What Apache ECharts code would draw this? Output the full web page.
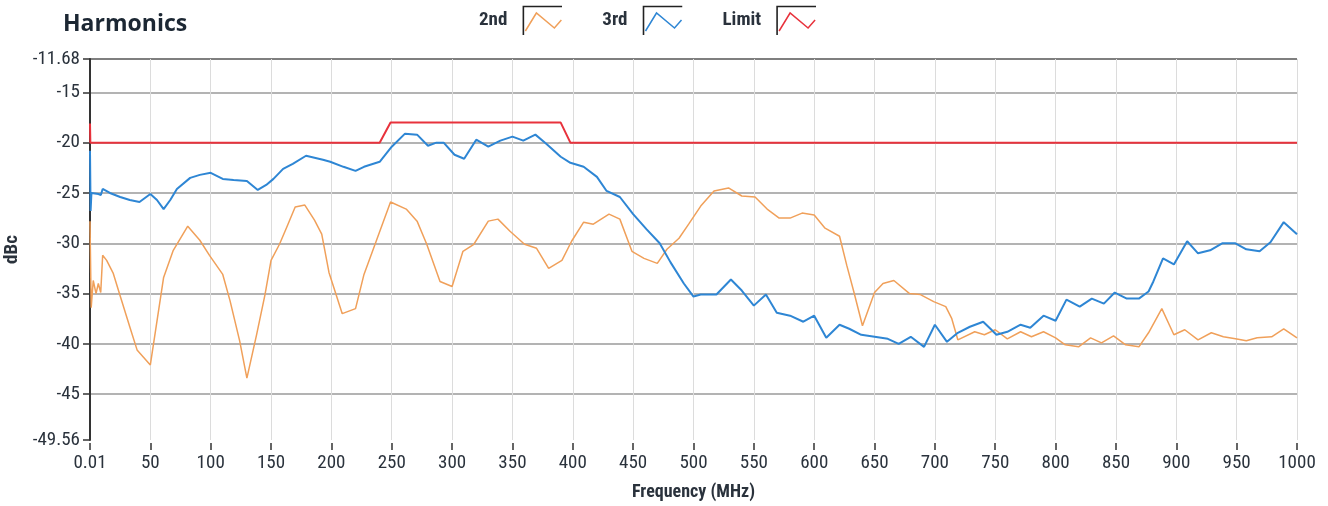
<!DOCTYPE html>
<html>
<head>
<meta charset="utf-8">
<title>Harmonics</title>
<script src="https://cdn.jsdelivr.net/npm/echarts@6/dist/echarts.min.js"></script>
<style>
  html, body { margin: 0; padding: 0; background: #fff; }
  #chart { width: 1328px; height: 506px; }
</style>
</head>
<body>
<div id="chart"></div>
<script>
// frequency (MHz) / level (dBc)
var secondFreq = [0.01, 1, 2.7, 5, 6.9, 8.9, 10.5, 13.8, 19.3, 24.9, 33.2, 39, 50, 61, 69, 81, 91, 99, 110, 116, 124, 130, 138, 145, 150, 157, 163, 170, 178, 186, 192, 198, 209, 220, 227, 238, 249, 262, 271, 279, 290, 300, 309, 318, 330, 338, 348, 360, 370, 380, 391, 399, 409, 417, 430, 439, 449, 459, 470, 478, 488, 496, 506, 517, 529, 540, 551, 561, 571, 580, 590, 600, 609, 621, 627, 633, 640, 650, 657, 666, 679, 688, 699, 709, 714, 719, 733, 741, 750, 760, 771, 780, 790, 800, 808, 819, 829, 838, 848, 858, 869, 877, 888, 898, 907, 918, 929, 939, 949, 958, 967, 979, 989, 1000];
var secondDbc = [-27.8, -36.4, -33.7, -35.0, -34.0, -34.9, -31.2, -31.7, -33.0, -35.2, -38.4, -40.6, -42.1, -33.4, -30.7, -28.3, -29.7, -31.2, -33.1, -35.7, -39.7, -43.4, -39.1, -35.1, -31.7, -30.1, -28.4, -26.4, -26.2, -27.7, -29.1, -32.9, -37.0, -36.5, -33.1, -29.5, -25.9, -26.6, -27.8, -30.1, -33.8, -34.3, -30.8, -30.1, -27.8, -27.6, -28.8, -30.1, -30.5, -32.5, -31.7, -29.8, -27.9, -28.1, -27.1, -27.6, -30.8, -31.5, -32.0, -30.6, -29.5, -28.1, -26.3, -24.8, -24.5, -25.3, -25.4, -26.6, -27.5, -27.5, -27.0, -27.2, -28.5, -29.3, -32.2, -34.9, -38.2, -34.9, -34.0, -33.7, -35.0, -35.1, -35.8, -36.3, -37.5, -39.6, -38.8, -39.1, -38.6, -39.5, -38.8, -39.3, -38.8, -39.4, -40.1, -40.3, -39.4, -39.9, -39.2, -40.1, -40.3, -38.9, -36.5, -39.1, -38.6, -39.6, -38.9, -39.3, -39.5, -39.7, -39.4, -39.3, -38.5, -39.4];

var thirdFreq = [0.01, 0.5, 1.2, 2.7, 7, 9, 10.5, 16.5, 25, 33, 41, 50, 55.5, 61, 66.5, 72, 83, 91, 100, 110, 119, 130, 139, 146, 152, 160, 168, 179, 186, 193, 199, 210, 220, 227, 240, 250, 261, 271, 280, 287, 293, 302, 310, 320, 330, 340, 350, 359, 369, 378, 390, 398, 409, 420, 428, 439, 450, 461, 472, 481, 492, 500, 506, 519, 531, 540, 550, 560, 569, 580, 591, 600, 610, 621, 629, 639, 650, 661, 670, 680, 691, 700, 710, 719, 729, 740, 746, 751, 760, 771, 779, 790, 800, 809, 820, 830, 840, 849, 859, 869, 877, 881, 889, 898, 909, 918, 928, 938, 949, 958, 969, 978, 989, 1000];
var thirdDbc = [-20.8, -26.8, -25.0, -25.1, -25.1, -25.2, -24.6, -25.0, -25.4, -25.7, -25.9, -25.1, -25.7, -26.6, -25.7, -24.6, -23.5, -23.2, -23.0, -23.6, -23.7, -23.8, -24.7, -24.2, -23.6, -22.6, -22.1, -21.3, -21.5, -21.7, -21.9, -22.4, -22.8, -22.4, -21.9, -20.4, -19.1, -19.2, -20.3, -20.0, -20.0, -21.2, -21.6, -19.7, -20.4, -19.8, -19.4, -19.8, -19.2, -20.1, -21.4, -22.0, -22.4, -23.4, -24.8, -25.4, -27.1, -28.6, -30.0, -31.9, -34.0, -35.3, -35.1, -35.1, -33.6, -34.7, -36.2, -35.1, -36.9, -37.2, -37.8, -37.2, -39.4, -38.1, -38.5, -39.1, -39.3, -39.5, -40.0, -39.3, -40.3, -38.1, -39.8, -38.9, -38.3, -37.8, -38.5, -39.1, -38.8, -38.1, -38.4, -37.2, -37.7, -35.6, -36.3, -35.5, -36.0, -34.9, -35.5, -35.5, -34.8, -33.8, -31.5, -32.1, -29.8, -31.0, -30.7, -30.0, -30.0, -30.6, -30.8, -29.9, -27.9, -29.1];

var limitFreq = [0.01, 0.3, 240, 249, 390, 398, 1000];
var limitDbc = [-18.1, -20, -20, -18, -18, -20, -20];

var xTicks = [0.01, 50, 100, 150, 200, 250, 300, 350, 400, 450, 500, 550, 600, 650, 700, 750, 800, 850, 900, 950, 1000];
var yTicks = [-49.56, -45, -40, -35, -30, -25, -20, -15, -11.68];

function pairs(xs, ys) {
  return xs.map(function (x, i) { return [x, ys[i]]; });
}

function legendIcon(color) {
  var svg = '<svg xmlns="http://www.w3.org/2000/svg" width="50" height="30" viewBox="0 0 50 30">' +
    '<path d="M11 30 V1.5 H50" fill="none" stroke="#222" stroke-width="1.6"/>' +
    '<path d="M13 26 L24 8 L42 23 L49 15" fill="none" stroke="' + color + '" stroke-width="1.5"/>' +
    '</svg>';
  return 'image://data:image/svg+xml;charset=utf-8,' + encodeURIComponent(svg);
}

var narrow = "'Roboto Condensed', 'Liberation Sans Narrow', Roboto, sans-serif";
var textColor = '#2a323c';

var chart = echarts.init(document.getElementById('chart'));

var option = {
  animation: false,
  backgroundColor: '#fff',
  color: ['#f0a05a', '#2e86d4', '#e8323c'],
  title: {
    text: 'Harmonics',
    left: 63,
    top: 13,
    padding: 0,
    textStyle: {
      fontFamily: "'Open Sans', sans-serif",
      fontSize: 23,
      fontWeight: 'bold',
      color: '#1c2733'
    }
  },
  legend: {
    left: 479,
    top: 5,
    padding: 0,
    align: 'right',
    itemWidth: 50,
    itemHeight: 30,
    itemGap: 40,
    textStyle: {
      fontFamily: narrow,
      fontSize: 19,
      fontWeight: 'bold',
      color: textColor
    },
    data: [
      { name: '2nd', icon: legendIcon('#f0a05a') },
      { name: '3rd', icon: legendIcon('#2e86d4') },
      { name: 'Limit', icon: legendIcon('#e8323c') }
    ]
  },
  grid: {
    left: 90,
    right: 31,
    top: 59,
    bottom: 66,
    outerBoundsMode: 'none'
  },
  xAxis: {
    type: 'value',
    min: 0.01,
    max: 1000,
    offset: 3,
    name: 'Frequency (MHz)',
    nameLocation: 'middle',
    nameGap: 40,
    nameTextStyle: {
      fontFamily: narrow,
      fontSize: 18,
      fontWeight: 'bold',
      color: textColor
    },
    axisLine: { show: false },
    axisTick: {
      customValues: xTicks,
      length: 7,
      lineStyle: { color: '#333', width: 1.5 }
    },
    axisLabel: {
      customValues: xTicks,
      margin: 11,
      fontFamily: narrow,
      fontSize: 19,
      color: textColor,
      formatter: function (v) { return String(v); }
    },
    splitLine: {
      show: true,
      lineStyle: { color: '#dcdcdc', width: 1 }
    }
  },
  yAxis: {
    type: 'value',
    min: -49.56,
    max: -11.68,
    name: 'dBc',
    nameLocation: 'middle',
    nameGap: 62,
    nameTextStyle: {
      fontFamily: narrow,
      fontSize: 19,
      fontWeight: 'bold',
      color: textColor
    },
    axisLine: {
      show: true,
      lineStyle: { color: '#333', width: 2 }
    },
    axisTick: {
      customValues: yTicks,
      length: 7,
      lineStyle: { color: '#333', width: 1.5 }
    },
    axisLabel: {
      customValues: yTicks,
      margin: 10,
      fontFamily: narrow,
      fontSize: 19,
      color: textColor
    },
    splitLine: {
      show: true,
      lineStyle: {
        color: ['rgba(0,0,0,0)', '#9a9a9a', '#9a9a9a', '#9a9a9a', '#9a9a9a', '#9a9a9a', '#9a9a9a', '#9a9a9a', '#555'],
        width: 1.5
      }
    }
  },
  series: [
    {
      name: '2nd',
      type: 'line',
      showSymbol: false,
      data: pairs(secondFreq, secondDbc),
      lineStyle: { width: 1.5 }
    },
    {
      name: '3rd',
      type: 'line',
      showSymbol: false,
      data: pairs(thirdFreq, thirdDbc),
      lineStyle: { width: 2 }
    },
    {
      name: 'Limit',
      type: 'line',
      showSymbol: false,
      data: pairs(limitFreq, limitDbc),
      lineStyle: { width: 2 }
    }
  ]
};

chart.setOption(option);
</script>
</body>
</html>
